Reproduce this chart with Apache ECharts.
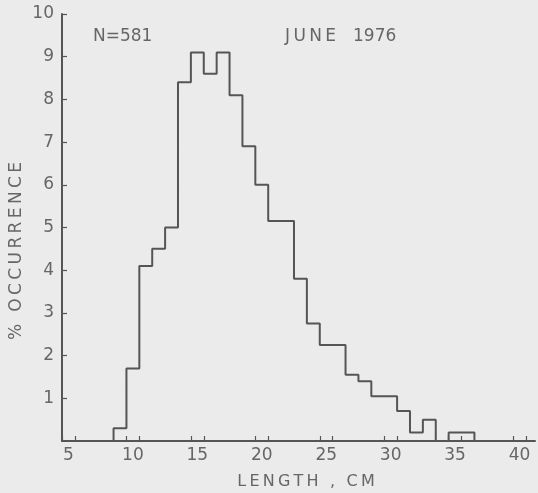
<!DOCTYPE html>
<html>
<head>
<meta charset="utf-8">
<script src="https://cdn.jsdelivr.net/npm/echarts@6/dist/echarts.min.js"></script>
<style>
html,body{margin:0;padding:0;background:#ebebeb;}
#c{width:538px;height:493px;}
</style>
</head>
<body>
<div id="c"></div>
<script>
// Length class centres (cm), 1 cm bins
var lengths = [9,10,11,12,13,14,15,16,17,18,19,20,21,22,23,24,25,26,27,28,29,30,31,32,33,34,35,36];
// % occurrence per bin
var percent = [0.3,1.7,4.1,4.5,5.0,8.4,9.1,8.6,9.1,8.1,6.9,6.0,5.15,5.15,3.8,2.75,2.25,2.25,1.55,1.4,1.05,1.05,0.7,0.2,0.5,0,0.2,0.2];
var xLabels = [5,10,15,20,25,30,35,40];
var yLabels = [1,2,3,4,5,6,7,8,9,10];
var sampleText = 'N=581';
var monthText = 'JUNE';
var yearText = '1976';
var xName = 'LENGTH , CM';
var yName = '% OCCURRENCE';

function spaced(s){ return s.split('').join('\u2009'); }

// build step outline from bins
var half = 0.5;
var pts = [[lengths[0]-half, 0]];
for (var i = 0; i < lengths.length; i++) pts.push([lengths[i]-half, percent[i]]);
pts.push([lengths[lengths.length-1]+half, 0]);

var xTicks = [];
xLabels.forEach(function(v){ xTicks.push(v-0.5, v+0.5); });

var txt = '#666';
var font = 'DejaVu Sans';
var chart = echarts.init(document.getElementById('c'), null, {renderer:'canvas'});
chart.setOption({
  backgroundColor: '#ebebeb',
  animation: false,
  grid: {left: 62, right: 3, top: 14, bottom: 52, containLabel: false, outerBoundsMode: 'none'},
  xAxis: {
    type: 'value', min: 4.5, max: 41.2,
    axisLine: {show: true, lineStyle: {color: '#555', width: 2}},
    axisTick: {show: true, inside: true, length: 5, customValues: xTicks, lineStyle: {color: '#555', width: 1.2}},
    axisLabel: {customValues: xLabels, color: txt, fontSize: 17, fontFamily: font, margin: 6},
    splitLine: {show: false}
  },
  yAxis: {
    type: 'value', min: 0, max: 10,
    axisLine: {show: true, lineStyle: {color: '#555', width: 2}},
    axisTick: {show: true, inside: true, length: 5, customValues: yLabels, lineStyle: {color: '#555', width: 1.2}},
    axisLabel: {customValues: yLabels, color: txt, fontSize: 17, fontFamily: font, margin: 8},
    splitLine: {show: false}
  },
  graphic: [
    {type: 'text', x: 306, y: 482, style: {text: spaced(xName), fill: txt, font: '16px "DejaVu Sans"', align: 'center', verticalAlign: 'middle'}},
    {type: 'text', x: 17, y: 251, rotation: Math.PI/2, style: {text: spaced(yName), fill: txt, font: '17px "DejaVu Sans"', align: 'center', verticalAlign: 'middle'}}
  ],
  title: [
    {text: sampleText, left: 88, top: 23, textStyle: {color: txt, fontSize: 17, fontWeight: 'normal', fontFamily: font}},
    {text: spaced(monthText), left: 280, top: 23, textStyle: {color: txt, fontSize: 17, fontWeight: 'normal', fontFamily: font}},
    {text: yearText, left: 348, top: 23, textStyle: {color: txt, fontSize: 17, fontWeight: 'normal', fontFamily: font}}
  ],
  series: [{
    type: 'line', step: 'end', data: pts, symbol: 'none',
    lineStyle: {color: '#555', width: 2}
  }]
});
</script>
</body>
</html>
